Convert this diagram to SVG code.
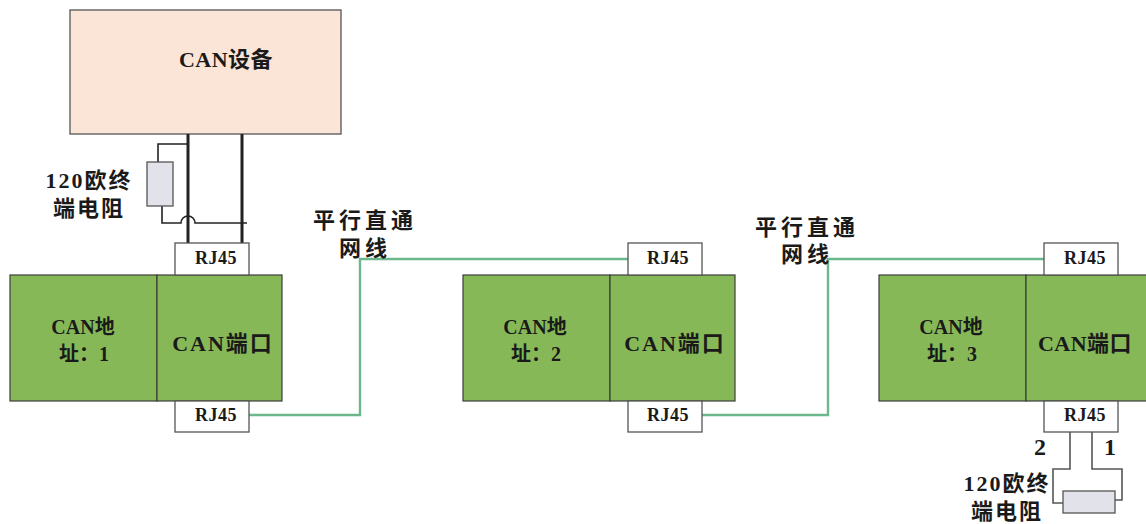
<svg xmlns="http://www.w3.org/2000/svg" width="1146" height="524" viewBox="0 0 1146 524">
<style>
text{font-family:"Liberation Serif","Noto Sans CJK SC",serif;font-weight:bold;fill:#1a1a1a;text-anchor:middle}
.l{font-size:22px;letter-spacing:2px}
.a{font-size:20px}
.w5{font-size:22px;letter-spacing:4px}
.r{font-size:18px;letter-spacing:.5px}
.n{font-size:22px;letter-spacing:.5px}
.d{font-size:24px}
.g{fill:#86b858;stroke:#3d3d3d;stroke-width:1.2}
.p{fill:#fff;stroke:#555;stroke-width:1.3}
.w{fill:#e2e2ea;stroke:#555;stroke-width:1.3}
.k{fill:none;stroke:#222;stroke-width:1.6}
.b{fill:none;stroke:#222;stroke-width:3}
.t{fill:none;stroke:#555;stroke-width:1.6}
.c{fill:none;stroke:#6cb88c;stroke-width:2.4}
</style>
<rect width="1146" height="524" fill="#fff"/>
<g id="can-device"><rect x="70" y="10" width="271" height="124" fill="#fbe5d6" stroke="#555" stroke-width="1.3"/><text class="n" x="226" y="67">CAN设备</text></g>
<g id="connectors">
<path class="b" d="M188 134V243M242 134V243"/>
<path class="k" d="M188 144H158V162M162 206V223H181A7 7 0 0 1 195 223H247"/>
<path class="c" d="M249 415H360V259H628M702 415H828V259H1044"/>
<path class="t" d="M1070 432V469H1053V503H1063M1092 432V469H1122V500H1115"/>
</g>
<g id="resistor-1"><rect class="w" x="147" y="162" width="26" height="44"/><text class="l" x="89" y="188">120欧终</text><text class="l" x="89" y="216">端电阻</text></g>
<g id="resistor-2"><rect class="w" x="1063" y="491" width="52" height="22"/><text class="l" x="1007" y="491">120欧终</text><text class="l" x="1007" y="519">端电阻</text></g>
<g id="device-1"><rect class="g" x="10" y="275" width="147" height="126"/><rect class="g" x="157" y="275" width="125" height="126"/><text class="a" x="83" y="334">CAN地</text><text class="a" x="84" y="361">址：1</text><text class="l" x="223" y="351">CAN端口</text></g>
<g id="device-2"><rect class="g" x="463" y="275" width="147" height="126"/><rect class="g" x="610" y="275" width="125" height="126"/><text class="a" x="535" y="334">CAN地</text><text class="a" x="536" y="361">址：2</text><text class="l" x="675" y="351">CAN端口</text></g>
<g id="device-3"><rect class="g" x="879" y="275" width="147" height="126"/><rect class="g" x="1026" y="275" width="125" height="126"/><text class="a" x="951" y="334">CAN地</text><text class="a" x="952" y="361">址：3</text><text class="l" x="1085" y="351" style="letter-spacing:.5px">CAN端口</text></g>
<g id="rj45-1a"><rect class="p" x="175" y="243" width="74" height="32"/><text class="r" x="216" y="264">RJ45</text></g>
<g id="rj45-1b"><rect class="p" x="175" y="401" width="74" height="31"/><text class="r" x="216" y="421">RJ45</text></g>
<g id="rj45-2a"><rect class="p" x="628" y="243" width="74" height="32"/><text class="r" x="668" y="264">RJ45</text></g>
<g id="rj45-2b"><rect class="p" x="628" y="401" width="74" height="31"/><text class="r" x="668" y="421">RJ45</text></g>
<g id="rj45-3a"><rect class="p" x="1044" y="243" width="74" height="32"/><text class="r" x="1085" y="264">RJ45</text></g>
<g id="rj45-3b"><rect class="p" x="1044" y="401" width="74" height="31"/><text class="r" x="1085" y="421">RJ45</text></g>
<g id="labels">
<text class="w5" x="365" y="228">平行直通</text><text class="w5" x="365" y="256">网线</text>
<text class="w5" x="807" y="235">平行直通</text><text class="w5" x="807" y="262">网线</text>
<text class="d" x="1040" y="455">2</text><text class="d" x="1110" y="455">1</text>
</g>
</svg>
